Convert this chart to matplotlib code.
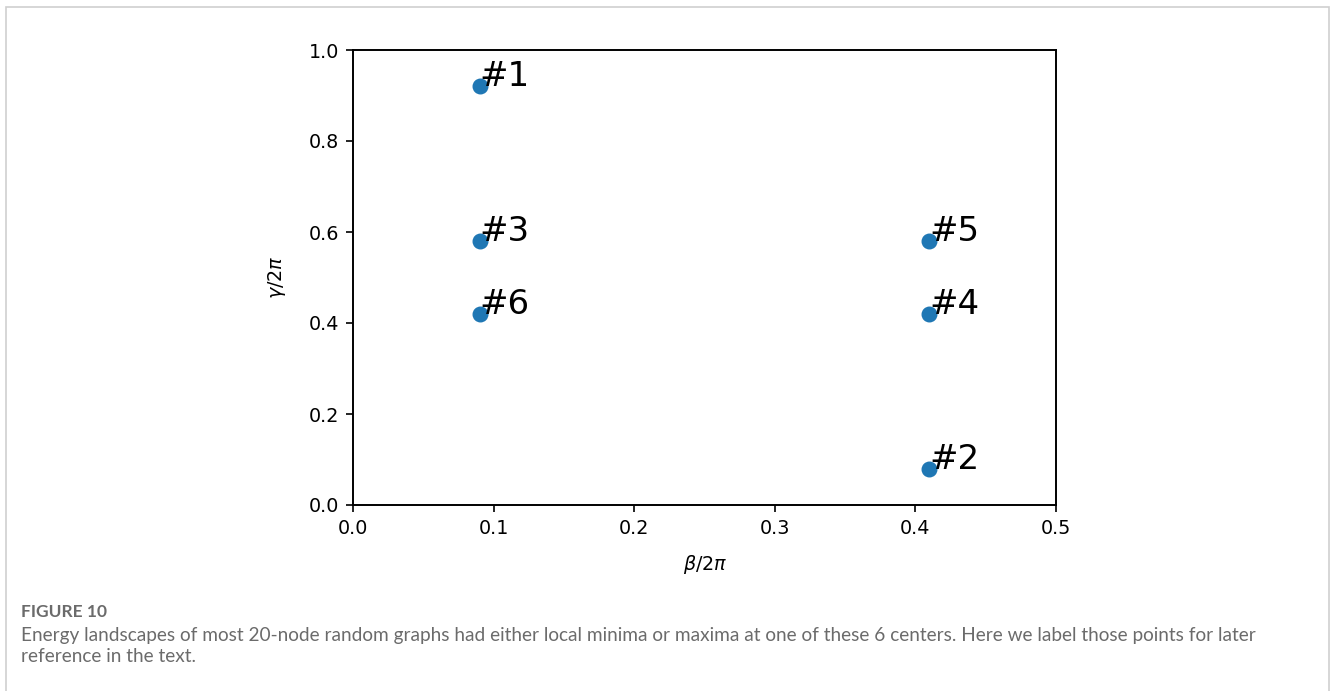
import matplotlib
matplotlib.use("Agg")
import matplotlib.pyplot as plt
from matplotlib.patches import Rectangle

# Centers of local minima / maxima in the (beta, gamma) landscape
labels = ["#1", "#2", "#3", "#4", "#5", "#6"]
beta = [0.09, 0.41, 0.09, 0.41, 0.41, 0.09]
gamma = [0.92, 0.08, 0.58, 0.42, 0.58, 0.42]

x_ticks = [0.0, 0.1, 0.2, 0.3, 0.4, 0.5]
y_ticks = [0.0, 0.2, 0.4, 0.6, 0.8, 1.0]

W, H = 1332, 691
fig = plt.figure(figsize=(W / 100, H / 100), dpi=100)

# Panel frame
fig.patches.append(Rectangle((6 / W, -0.01), (1329 - 6) / W, (H - 7) / H + 0.01,
                             transform=fig.transFigure, fill=False,
                             edgecolor="#cfcfcf", linewidth=1.2))

ax = fig.add_axes([353 / W, 1 - 505 / H, (1056 - 353) / W, (505 - 50) / H])
ax.scatter(beta, gamma, s=110, color="#1f77b4", zorder=3)
for lab, b, g in zip(labels, beta, gamma):
    ax.text(b, g, lab, fontsize=24.5, color="black")

ax.set_xlim(0, 0.5)
ax.set_ylim(0, 1.0)
ax.set_xticks(x_ticks)
ax.set_yticks(y_ticks)
ax.tick_params(labelsize=13.8, length=5, width=1.2, pad=5)
for s in ax.spines.values():
    s.set_linewidth(1.4)
ax.set_xlabel(r"$\beta/2\pi$", fontsize=13.8, labelpad=11)
ax.set_ylabel(r"$\gamma/2\pi$", fontsize=13.8, labelpad=15)

fig.text(21 / W, 1 - 612 / H, "FIGURE 10", fontsize=12.5, fontweight="bold",
         family="Lato", color="#6b6b6b", va="center")
fig.text(21 / W, 1 - 636 / H,
         "Energy landscapes of most 20-node random graphs had either local minima or maxima "
         "at one of these 6 centers. Here we label those points for later",
         fontsize=13.7, family="Lato", color="#6b6b6b", va="center")
fig.text(21 / W, 1 - 657 / H, "reference in the text.",
         fontsize=13.7, family="Lato", color="#6b6b6b", va="center")

fig.savefig("out.png", dpi=100)
